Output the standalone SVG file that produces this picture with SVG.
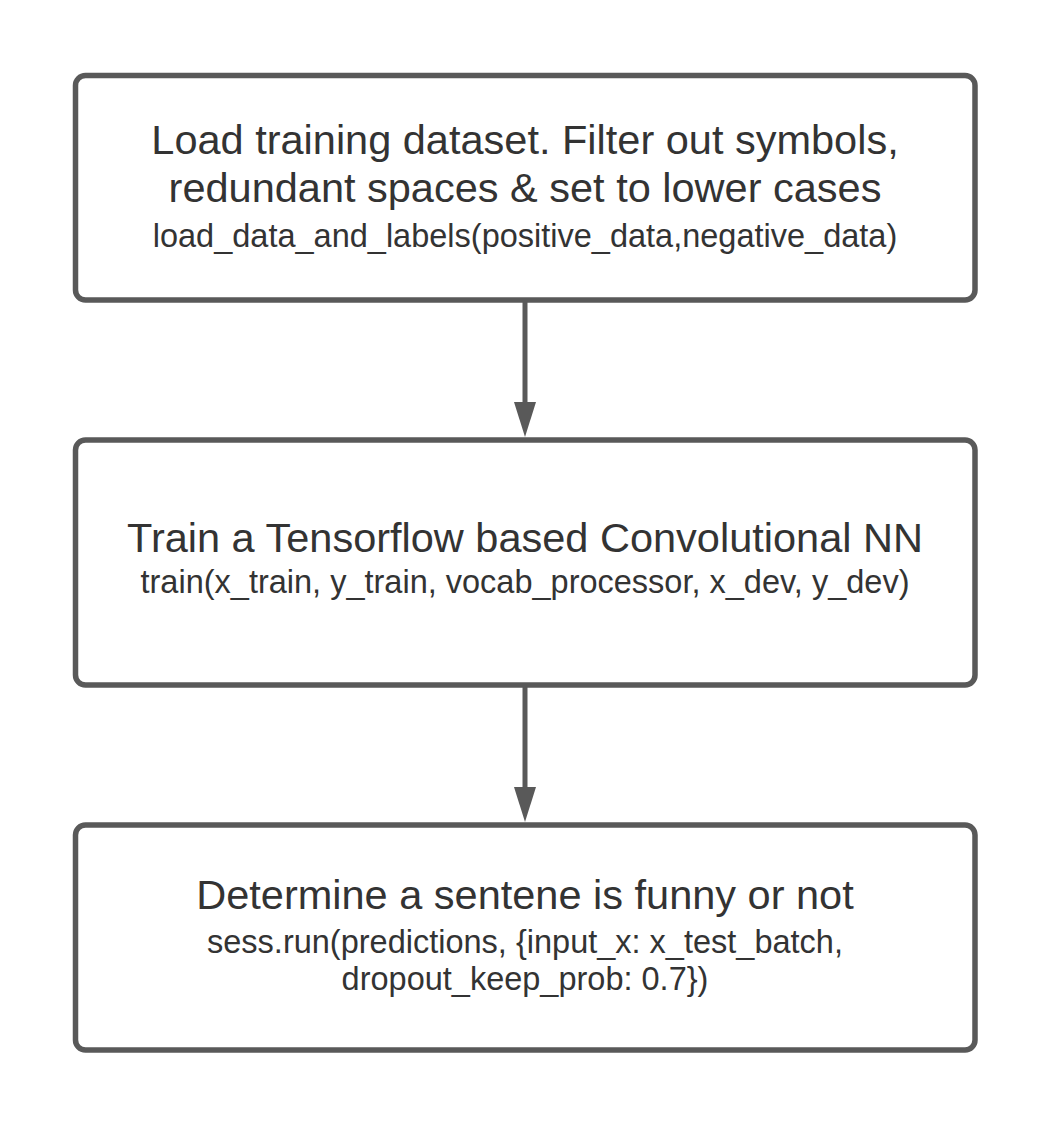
<svg xmlns="http://www.w3.org/2000/svg" width="1050" height="1125" viewBox="0 0 1050 1125">
<defs>
<style>
.box{fill:#ffffff;stroke:#595959;stroke-width:5.5}
.t{font-family:"Liberation Sans",Arial,sans-serif;fill:#333333;text-anchor:middle}
.h{font-size:41.5px}
.c{font-size:32.5px}
.edge{stroke:#595959;stroke-width:5;fill:none}
.head{fill:#595959}
</style>
</defs>
<rect width="1050" height="1125" fill="#ffffff"/>
<g id="connectors">
<line class="edge" x1="525" y1="300" x2="525" y2="404"/>
<path class="head" d="M514,402 L536,402 L525,437 Z"/>
<line class="edge" x1="525" y1="685" x2="525" y2="789"/>
<path class="head" d="M514,787 L536,787 L525,822 Z"/>
</g>
<g id="node1">
<rect class="box" x="75.5" y="75.5" width="899.5" height="224.5" rx="10"/>
<text class="t h" x="525" y="154">Load training dataset. Filter out symbols,</text>
<text class="t h" x="525" y="202">redundant spaces &amp; set to lower cases</text>
<text class="t c" x="525" y="247">load_data_and_labels(positive_data,negative_data)</text>
</g>
<g id="node2">
<rect class="box" x="75.5" y="440" width="899.5" height="245" rx="10"/>
<text class="t h" x="525" y="552">Train a Tensorflow based Convolutional NN</text>
<text class="t c" x="525" y="593">train(x_train, y_train, vocab_processor, x_dev, y_dev)</text>
</g>
<g id="node3">
<rect class="box" x="75.5" y="825" width="899.5" height="225" rx="10"/>
<text class="t h" x="525" y="909">Determine a sentene is funny or not</text>
<text class="t c" x="525" y="953">sess.run(predictions, {input_x: x_test_batch,</text>
<text class="t c" x="525" y="990">dropout_keep_prob: 0.7})</text>
</g>
</svg>
